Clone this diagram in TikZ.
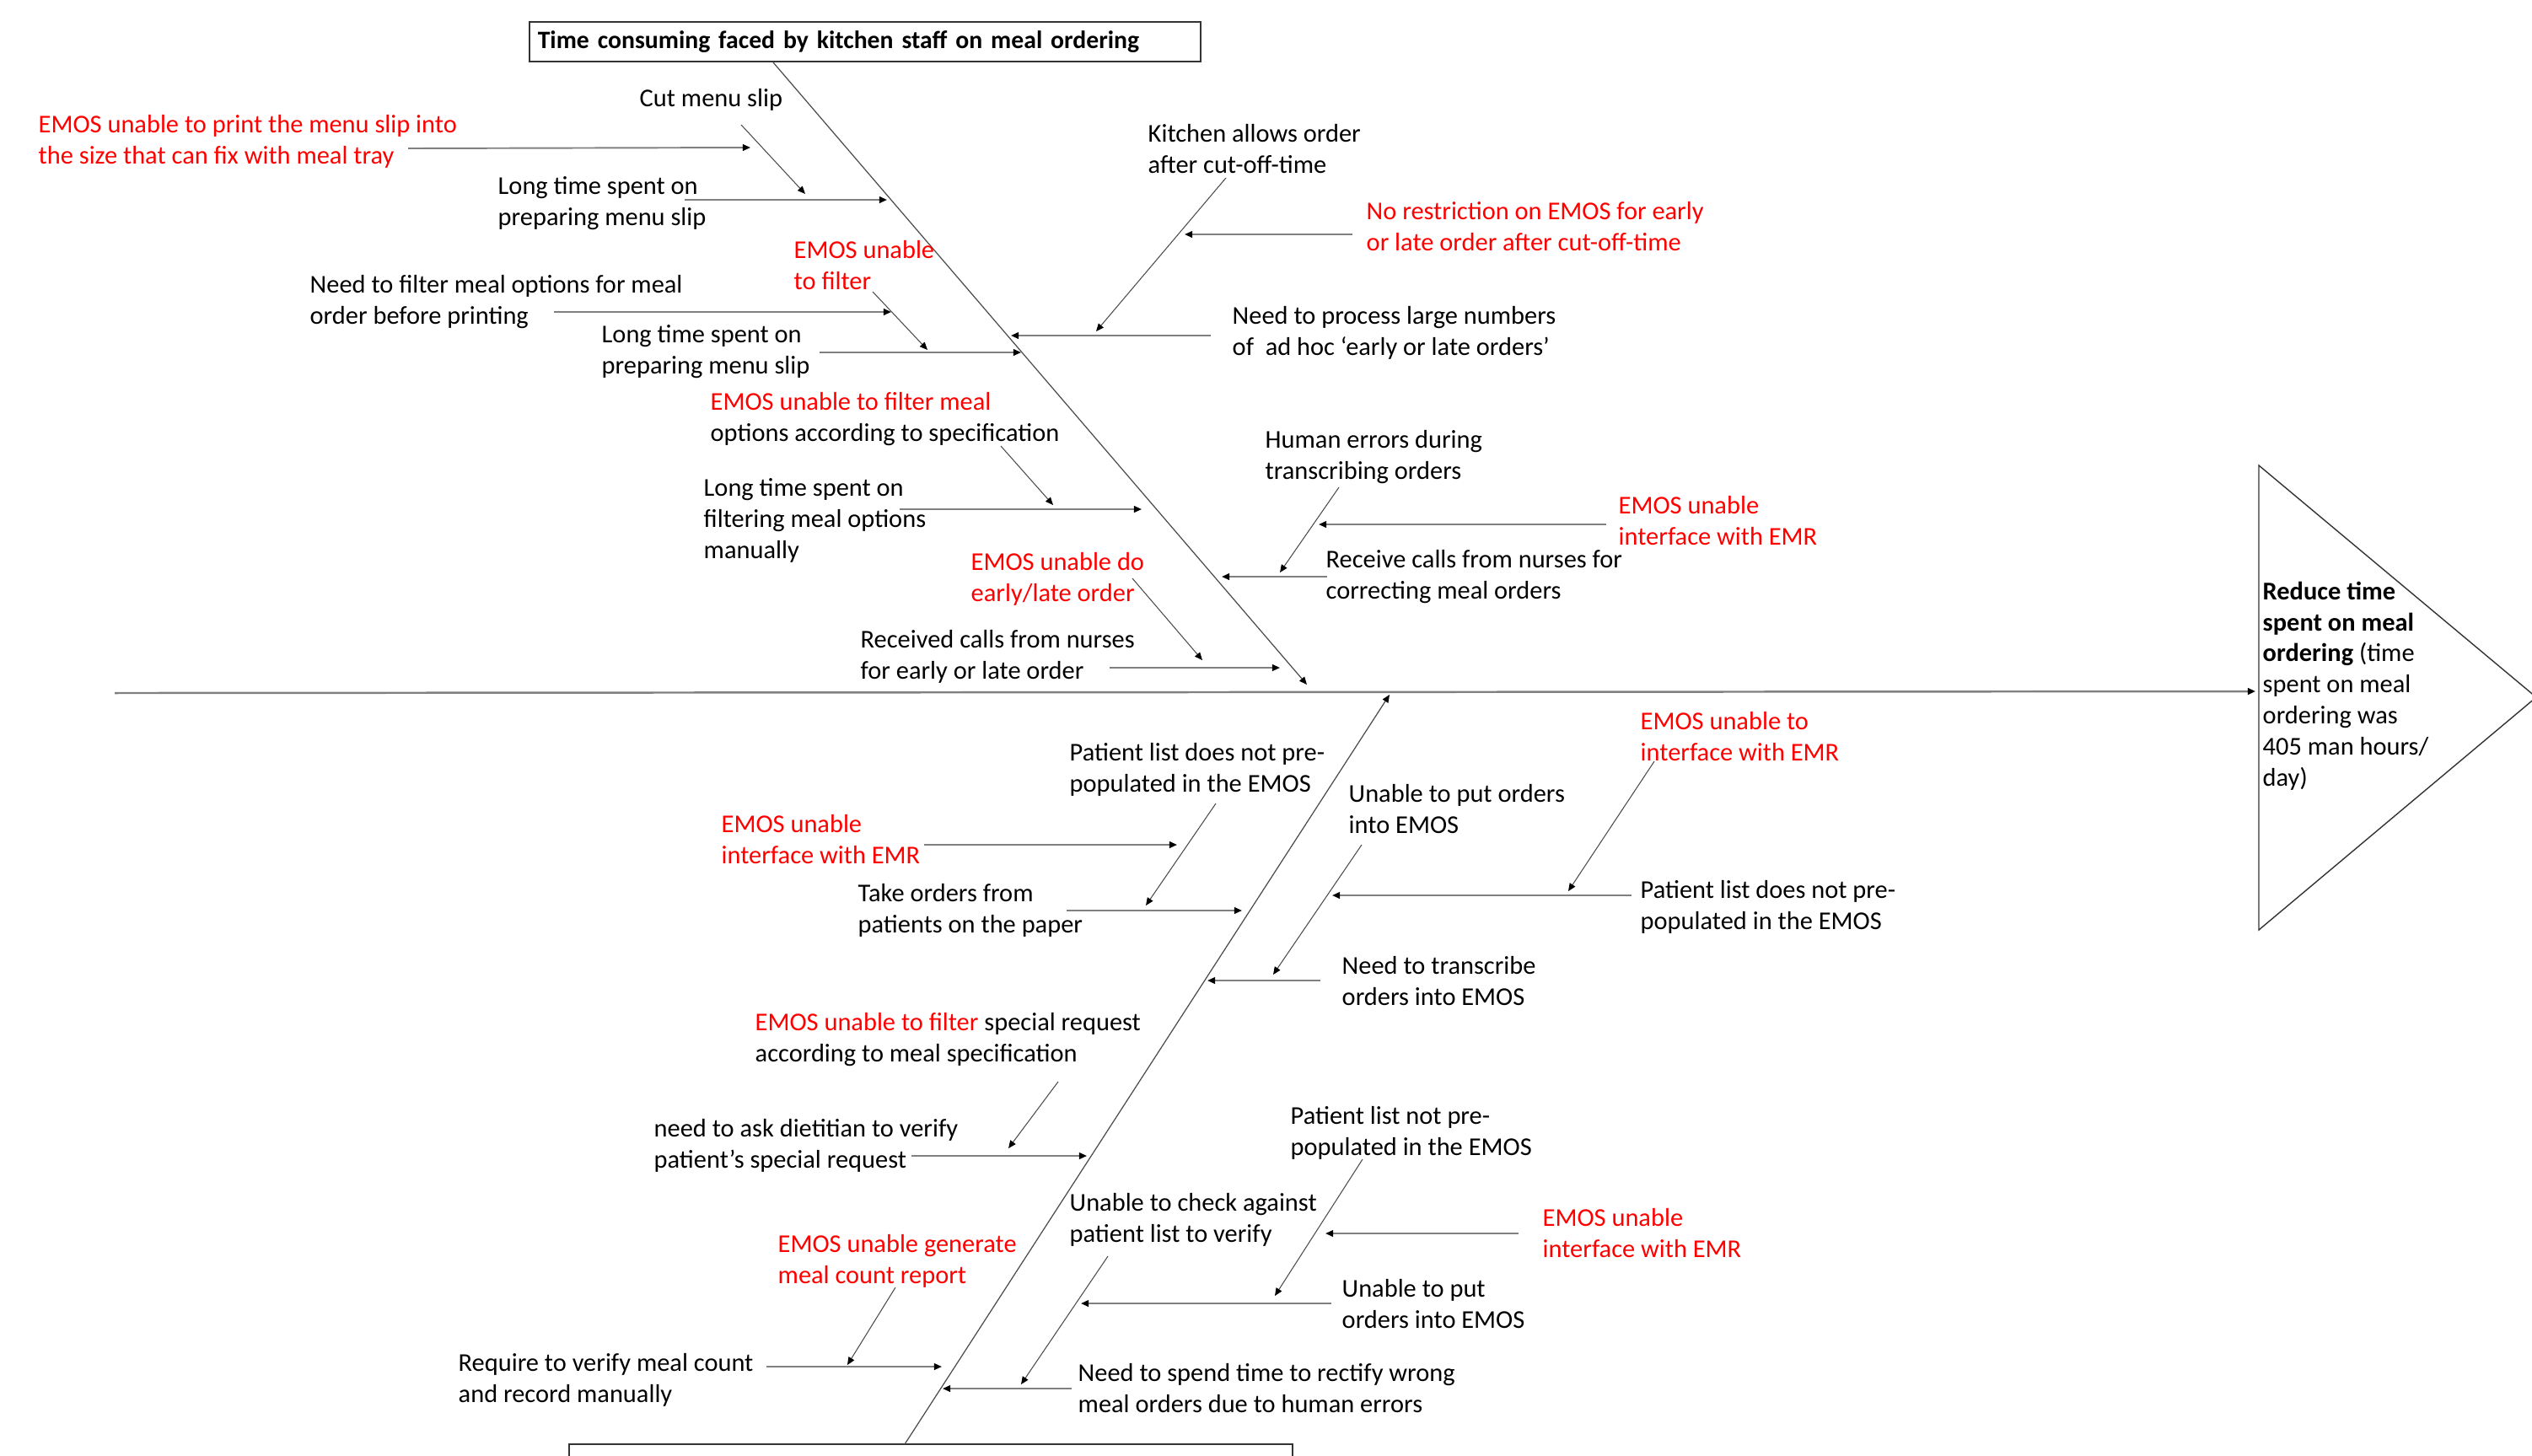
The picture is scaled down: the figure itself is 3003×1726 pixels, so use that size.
\documentclass[tikz,border=0pt]{standalone}
\usepackage{fontspec}
\setmainfont{Carlito}
\usetikzlibrary{arrows.meta}
\definecolor{redtxt}{RGB}{255,0,0}
\definecolor{linegray}{RGB}{128,128,128}
\begin{document}
\begin{tikzpicture}[x=0.01cm,y=-0.01cm,
  txt/.style={anchor=north west, inner sep=0pt, align=left, yshift=0.13cm,
    font=\fontsize{8.65}{10.5}\selectfont},
  rtxt/.style={txt, text=redtxt},
  hz/.style={draw=linegray, line width=0.55pt, -{Triangle[length=2.6pt,width=2.2pt,color=black]}},
  dg/.style={draw=black!70, line width=0.3pt, -{Triangle[length=2.6pt,width=2.2pt,color=black]}},
  bone/.style={draw=black!70, line width=0.35pt, -{Triangle[length=2.6pt,width=2.2pt,color=black]}},
  boxstyle/.style={draw=black!80, line width=0.6pt, inner sep=0pt}
]
\clip (0,0) rectangle (3003,1726);
\fill[white] (0,0) rectangle (3003,1726);

% top box
\node[boxstyle, minimum width=7.96cm, minimum height=0.47cm, text width=7.76cm, align=left,
  font=\fontsize{8.45}{10.5}\selectfont\bfseries] (topbox) at (1026,49.5)
  {Time consuming faced by kitchen staff on meal ordering};
% bottom box (cut off)
\node[boxstyle, minimum width=8.58cm, minimum height=0.6cm] (botbox) at (1104,1743) {};

% spine and head
\coordinate (sp1) at (136,822);
\coordinate (sp2) at (2675,820);
\draw[hz, line width=0.7pt] (sp1) -- (sp2);
\draw[draw=black!80, line width=0.4pt] (2679,552) coordinate (tri1) -- (3008,827) coordinate (tri2) -- (2679,1103) coordinate (tri3) -- cycle;
\node[txt] (effect) at (2683,702) {\textbf{Reduce time}\\\textbf{spent on meal}\\\textbf{ordering} (time\\spent on meal\\ordering was\\405 man hours/\\day)};

% main bones
\coordinate (ub1) at (917,74);
\coordinate (ub2) at (1550,812);
\coordinate (lb1) at (1073,1713);
\coordinate (lb2) at (1648,824);
\draw[bone] (ub1) -- (ub2);
\draw[bone] (lb1) -- (lb2);

% ---------- upper left ----------
\node[txt] (t1) at (758,118) {Cut menu slip};
\node[rtxt] (r1) at (45,149) {EMOS unable to print the menu slip into\\the size that can fix with meal tray};
\coordinate (a1s) at (484,176); \coordinate (a1e) at (890,175);
\draw[hz] (a1s) -- (a1e);
\coordinate (d1s) at (879,148); \coordinate (d1e) at (955,230);
\draw[dg] (d1s) -- (d1e);

\node[txt] (t2) at (590,222) {Long time spent on\\preparing menu slip};
\coordinate (a2s) at (812,237); \coordinate (a2e) at (1052,237);
\draw[hz] (a2s) -- (a2e);

\node[rtxt] (r2) at (941,298) {EMOS unable\\to filter};
\coordinate (d2s) at (1035,346); \coordinate (d2e) at (1100,415);
\draw[dg] (d2s) -- (d2e);

\node[txt] (t3) at (367,339) {Need to filter meal options for meal\\order before printing};
\coordinate (a3s) at (657,370); \coordinate (a3e) at (1057,370);
\draw[hz] (a3s) -- (a3e);

\node[txt] (t4) at (713,398) {Long time spent on\\preparing menu slip};
\coordinate (a4s) at (972,418); \coordinate (a4e) at (1211,418);
\draw[hz] (a4s) -- (a4e);

\node[txt] (t5) at (842,478) {\textcolor{redtxt}{EMOS unable to filter meal}\\options according to specification};
\coordinate (d5s) at (1187,529); \coordinate (d5e) at (1249,599);
\draw[dg] (d5s) -- (d5e);

\node[txt] (t6) at (834,580) {Long time spent on\\filtering meal options\\manually};
\coordinate (a6s) at (1067,604); \coordinate (a6e) at (1354,604);
\draw[hz] (a6s) -- (a6e);

\node[rtxt] (r3) at (1151,668) {EMOS unable do\\early/late order};
\coordinate (d3s) at (1343,686); \coordinate (d3e) at (1426,783);
\draw[dg] (d3s) -- (d3e);

\node[txt] (t7) at (1020,760) {Received calls from nurses\\for early or late order};
\coordinate (a7s) at (1316,792); \coordinate (a7e) at (1518,792);
\draw[hz] (a7s) -- (a7e);

% ---------- upper right ----------
\node[txt] (t8) at (1361,160) {Kitchen allows order\\after cut-off-time};
\coordinate (d8s) at (1454,211); \coordinate (d8e) at (1300,393);
\draw[dg] (d8s) -- (d8e);

\node[rtxt] (r4) at (1620,252) {No restriction on EMOS for early\\or late order after cut-off-time};
\coordinate (a8s) at (1604,278); \coordinate (a8e) at (1405,278);
\draw[hz] (a8s) -- (a8e);

\node[txt] (t9) at (1461,376) {Need to process large numbers\\of\ \ ad hoc ‘early or late orders’};
\coordinate (a9s) at (1436,398); \coordinate (a9e) at (1199,398);
\draw[hz] (a9s) -- (a9e);

\node[txt] (t10) at (1500,523) {Human errors during\\transcribing orders};
\coordinate (d10s) at (1588,578); \coordinate (d10e) at (1518,679);
\draw[dg] (d10s) -- (d10e);

\node[rtxt] (r5) at (1919,601) {EMOS unable\\interface with EMR};
\coordinate (a10s) at (1905,622); \coordinate (a10e) at (1564,622);
\draw[hz] (a10s) -- (a10e);

\node[txt] (t11) at (1572,665) {Receive calls from nurses for\\correcting meal orders};
\coordinate (a11s) at (1574,684); \coordinate (a11e) at (1449,684);
\draw[hz] (a11s) -- (a11e);

% ---------- lower left ----------
\node[txt] (t12) at (1268,894) {Patient list does not pre-\\populated in the EMOS};
\coordinate (d12s) at (1442,953); \coordinate (d12e) at (1359,1074);
\draw[dg] (d12s) -- (d12e);

\node[rtxt] (r6) at (855,979) {EMOS unable\\interface with EMR};
\coordinate (a12s) at (1096,1002); \coordinate (a12e) at (1396,1002);
\draw[hz] (a12s) -- (a12e);

\node[txt] (t13) at (1017,1061) {Take orders from\\patients on the paper};
\coordinate (a13s) at (1265,1080); \coordinate (a13e) at (1473,1080);
\draw[hz] (a13s) -- (a13e);

\node[txt] (t14) at (895,1214) {\textcolor{redtxt}{EMOS unable to filter} special request\\according to meal specification};
\coordinate (d14s) at (1255,1283); \coordinate (d14e) at (1196,1362);
\draw[dg] (d14s) -- (d14e);

\node[txt] (t15) at (775,1340) {need to ask dietitian to verify\\patient’s special request};
\coordinate (a15s) at (1081,1371); \coordinate (a15e) at (1289,1371);
\draw[hz] (a15s) -- (a15e);

\node[rtxt] (r7) at (922,1477) {EMOS unable generate\\meal count report};
\coordinate (d16s) at (1062,1527); \coordinate (d16e) at (1005,1619);
\draw[dg] (d16s) -- (d16e);

\node[txt] (t16) at (543,1618) {Require to verify meal count\\and record manually};
\coordinate (a16s) at (909,1621); \coordinate (a16e) at (1117,1621);
\draw[hz] (a16s) -- (a16e);

% ---------- lower right ----------
\node[txt] (t17) at (1599,943) {Unable to put orders\\into EMOS};
\coordinate (d17s) at (1615,1002); \coordinate (d17e) at (1510,1156);
\draw[dg] (d17s) -- (d17e);

\node[rtxt] (r8) at (1945,857) {EMOS unable to\\interface with EMR};
\coordinate (d18s) at (1962,903); \coordinate (d18e) at (1860,1057);
\draw[dg] (d18s) -- (d18e);

\node[txt] (t18) at (1945,1057) {Patient list does not pre-\\populated in the EMOS};
\coordinate (a18s) at (1935,1062); \coordinate (a18e) at (1580,1062);
\draw[hz] (a18s) -- (a18e);

\node[txt] (t19) at (1591,1147) {Need to transcribe\\orders into EMOS};
\coordinate (a19s) at (1566,1163); \coordinate (a19e) at (1432,1163);
\draw[hz] (a19s) -- (a19e);

\node[txt] (t20) at (1530,1325) {Patient list not pre-\\populated in the EMOS};
\coordinate (d20s) at (1616,1375); \coordinate (d20e) at (1512,1537);
\draw[dg] (d20s) -- (d20e);

\node[rtxt] (r9) at (1829,1446) {EMOS unable\\interface with EMR};
\coordinate (a20s) at (1801,1463); \coordinate (a20e) at (1572,1463);
\draw[hz] (a20s) -- (a20e);

\node[txt] (t21) at (1268,1428) {Unable to check against\\patient list to verify};
\coordinate (d21s) at (1314,1490); \coordinate (d21e) at (1211,1642);
\draw[dg] (d21s) -- (d21e);

\node[txt] (t22) at (1591,1530) {Unable to put\\orders into EMOS};
\coordinate (a22s) at (1579,1546); \coordinate (a22e) at (1282,1546);
\draw[hz] (a22s) -- (a22e);

\node[txt] (t23) at (1278,1630) {Need to spend time to rectify wrong\\meal orders due to human errors};
\coordinate (a23s) at (1271,1647); \coordinate (a23e) at (1118,1647);
\draw[hz] (a23s) -- (a23e);
\end{tikzpicture}
\end{document}
